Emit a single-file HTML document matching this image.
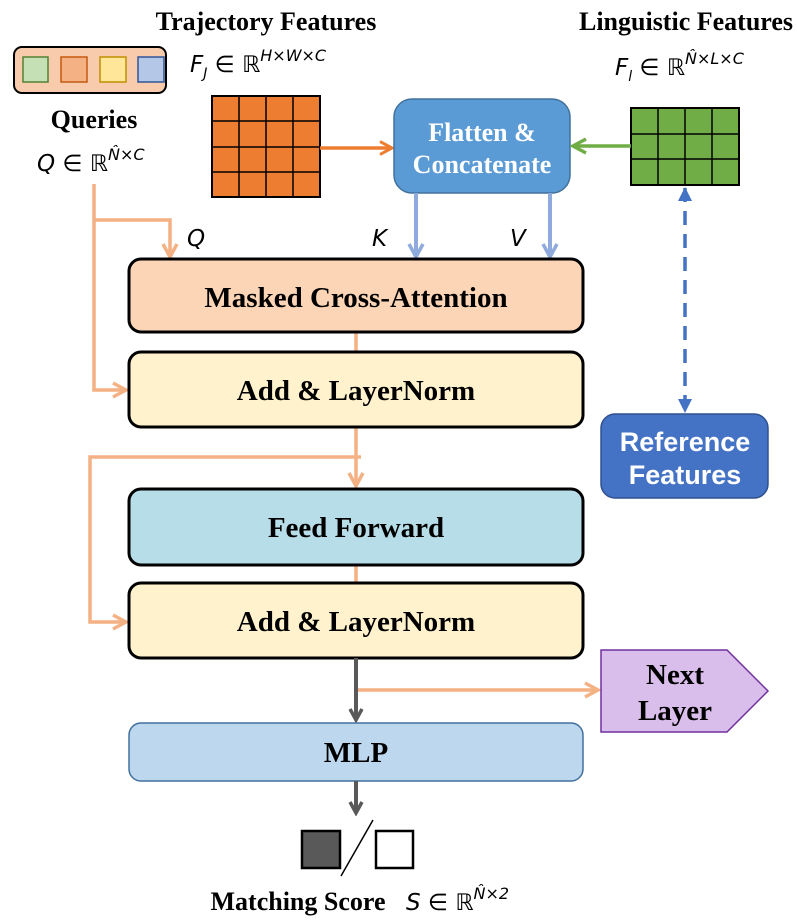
<!DOCTYPE html>
<html><head><meta charset="utf-8"><style>
html,body{margin:0;padding:0;background:#fff;}
svg{display:block;}
.t{font-family:"Liberation Serif",serif;font-weight:bold;fill:#000;}
.m{font-family:"DejaVu Sans","Liberation Serif",serif;font-style:italic;fill:#000;}
</style></head><body>
<svg width="797" height="922" viewBox="0 0 797 922" xmlns="http://www.w3.org/2000/svg">
<defs>
<marker id="ao" viewBox="0 0 16 16" refX="14" refY="8" markerWidth="16" markerHeight="16" markerUnits="userSpaceOnUse" orient="auto"><path d="M2,1.5 L14,8 L2,14.5" fill="none" stroke="#ed7d31" stroke-width="3"/></marker>
<marker id="ap" viewBox="0 0 18 18" refX="15" refY="9" markerWidth="18" markerHeight="18" markerUnits="userSpaceOnUse" orient="auto"><path d="M2,2 L15,9 L2,16" fill="none" stroke="#f4b183" stroke-width="3.5"/></marker>
<marker id="ag" viewBox="0 0 18 18" refX="15" refY="9" markerWidth="18" markerHeight="18" markerUnits="userSpaceOnUse" orient="auto"><path d="M2,2 L15,9 L2,16" fill="none" stroke="#70ad47" stroke-width="3.5"/></marker>
<marker id="ab" viewBox="0 0 18 18" refX="15" refY="9" markerWidth="18" markerHeight="18" markerUnits="userSpaceOnUse" orient="auto"><path d="M2,2 L15,9 L2,16" fill="none" stroke="#8faadc" stroke-width="3.5"/></marker>
<marker id="ay" viewBox="0 0 16 16" refX="13" refY="8" markerWidth="16" markerHeight="16" markerUnits="userSpaceOnUse" orient="auto"><path d="M2,2 L13,8 L2,14" fill="none" stroke="#595959" stroke-width="3.5"/></marker>
<marker id="ad" viewBox="0 0 14 14" refX="13" refY="7" markerWidth="14" markerHeight="14" markerUnits="userSpaceOnUse" orient="auto-start-reverse"><path d="M0,0 L14,7 L0,14 Z" fill="#4472c4"/></marker>
</defs>

<text class="t" x="266" y="30" font-size="26" text-anchor="middle">Trajectory Features</text>
<text class="t" x="686" y="30" font-size="26" text-anchor="middle">Linguistic Features</text>

<!-- Queries -->
<rect x="14" y="47" width="152" height="46" rx="8" fill="#f8cbad" stroke="#000" stroke-width="2"/>
<rect x="23" y="57" width="25" height="25" fill="#c5e0b4" stroke="#538135" stroke-width="1.5"/>
<rect x="61" y="57" width="26" height="25" fill="#f4b183" stroke="#c55a11" stroke-width="1.5"/>
<rect x="100" y="57" width="26" height="25" fill="#ffe699" stroke="#bf9000" stroke-width="1.5"/>
<rect x="138" y="57" width="26" height="25" fill="#b4c7e7" stroke="#2f5597" stroke-width="1.5"/>
<text class="t" x="94" y="128" font-size="26" text-anchor="middle">Queries</text>
<text class="m" x="37" y="171" font-size="23">Q ∈ ℝ<tspan font-size="16" dy="-11">N̂×C</tspan></text>

<text class="m" x="190" y="72" font-size="23">F<tspan font-size="14" dy="6">J</tspan><tspan dy="-6"> ∈ ℝ</tspan><tspan font-size="16" dy="-11">H×W×C</tspan></text>
<text class="m" x="615" y="75" font-size="23">F<tspan font-size="14" dy="6">l</tspan><tspan dy="-6"> ∈ ℝ</tspan><tspan font-size="16" dy="-11">N̂×L×C</tspan></text>

<!-- orange grid -->
<rect x="212" y="96" width="108" height="101" fill="#ed7d31" stroke="#000" stroke-width="2"/>
<path d="M239,96V197M266,96V197M293,96V197M212,121H320M212,147H320M212,172H320" stroke="#000" stroke-width="1.5"/>
<line x1="320" y1="148" x2="392" y2="148" stroke="#ed7d31" stroke-width="3.5" marker-end="url(#ao)"/>

<!-- flatten -->
<rect x="394" y="99" width="176" height="94" rx="18" fill="#5b9bd5" stroke="#41719c" stroke-width="1.5"/>
<text class="t" x="482" y="141" font-size="26" text-anchor="middle" style="fill:#fff">Flatten &amp;</text>
<text class="t" x="482" y="173" font-size="26" text-anchor="middle" style="fill:#fff">Concatenate</text>

<!-- green grid -->
<rect x="631" y="108" width="108" height="77" fill="#70ad47" stroke="#000" stroke-width="2"/>
<path d="M658,108V185M685,108V185M712,108V185M631,134H739M631,159H739" stroke="#000" stroke-width="1.5"/>
<line x1="631" y1="146" x2="573" y2="146" stroke="#70ad47" stroke-width="3.5" marker-end="url(#ag)"/>

<!-- dashed -->
<line x1="685" y1="188" x2="685" y2="412" stroke="#4472c4" stroke-width="3.5" stroke-dasharray="14,9" marker-start="url(#ad)" marker-end="url(#ad)"/>
<rect x="601" y="414" width="167" height="84" rx="14" fill="#4472c4" stroke="#2f528f" stroke-width="1.5"/>
<text x="685" y="451" font-size="27" font-weight="bold" text-anchor="middle" fill="#fff" font-family="'Liberation Sans',sans-serif">Reference</text>
<text x="685" y="484" font-size="27" font-weight="bold" text-anchor="middle" fill="#fff" font-family="'Liberation Sans',sans-serif">Features</text>

<!-- K V -->
<line x1="416" y1="193" x2="416" y2="257" stroke="#8faadc" stroke-width="4" marker-end="url(#ab)"/>
<line x1="550" y1="193" x2="550" y2="257" stroke="#8faadc" stroke-width="4" marker-end="url(#ab)"/>
<text class="m" x="372" y="246" font-size="23">K</text>
<text class="m" x="510" y="246" font-size="23">V</text>
<text class="m" x="187" y="246" font-size="23">Q</text>

<!-- Q lines -->
<path d="M94,184 V390 H126" fill="none" stroke="#f4b183" stroke-width="3.5" marker-end="url(#ap)"/>
<path d="M94,220 H170 V257" fill="none" stroke="#f4b183" stroke-width="3.5" marker-end="url(#ap)"/>

<!-- mid lines -->
<line x1="356" y1="332" x2="356" y2="352" stroke="#f4b183" stroke-width="3.5"/>
<line x1="356" y1="427" x2="356" y2="486" stroke="#f4b183" stroke-width="3.5" marker-end="url(#ap)"/>
<path d="M361,457 H90 V622 H126" fill="none" stroke="#f4b183" stroke-width="3.5" marker-end="url(#ap)"/>
<line x1="356" y1="565" x2="356" y2="583" stroke="#f4b183" stroke-width="3.5"/>

<!-- boxes -->
<rect x="129" y="259" width="454" height="73" rx="12" fill="#fbd5b5" stroke="#000" stroke-width="3"/>
<text class="t" x="356" y="307" font-size="29" text-anchor="middle">Masked Cross-Attention</text>
<rect x="129" y="352" width="454" height="75" rx="12" fill="#fff2cc" stroke="#000" stroke-width="3"/>
<text class="t" x="356" y="400" font-size="29" text-anchor="middle">Add &amp; LayerNorm</text>
<rect x="129" y="489" width="454" height="76" rx="12" fill="#b7dde8" stroke="#000" stroke-width="3"/>
<text class="t" x="356" y="537" font-size="29" text-anchor="middle">Feed Forward</text>
<rect x="129" y="583" width="454" height="75" rx="12" fill="#fff2cc" stroke="#000" stroke-width="3"/>
<text class="t" x="356" y="631" font-size="29" text-anchor="middle">Add &amp; LayerNorm</text>

<!-- bottom -->
<line x1="356" y1="658" x2="356" y2="720" stroke="#595959" stroke-width="4" marker-end="url(#ay)"/>
<line x1="358" y1="690" x2="598" y2="690" stroke="#f4b183" stroke-width="3.5" marker-end="url(#ap)"/>
<path d="M601,650 H727 L768,691 L727,732 H601 Z" fill="#d9bdea" stroke="#7030a0" stroke-width="1.5"/>
<text class="t" x="675" y="684" font-size="29" text-anchor="middle">Next</text>
<text class="t" x="675" y="720" font-size="29" text-anchor="middle">Layer</text>

<rect x="129" y="723" width="454" height="58" rx="12" fill="#bdd7ee" stroke="#41719c" stroke-width="1.5"/>
<text class="t" x="356" y="762" font-size="29" text-anchor="middle">MLP</text>
<line x1="356" y1="781" x2="356" y2="813" stroke="#595959" stroke-width="4" marker-end="url(#ay)"/>

<rect x="302" y="831" width="38" height="37" fill="#595959" stroke="#000" stroke-width="2.5"/>
<line x1="341" y1="876" x2="373" y2="820" stroke="#000" stroke-width="1.5"/>
<rect x="376" y="831" width="37" height="37" fill="#fff" stroke="#000" stroke-width="2.5"/>
<text class="t" x="298" y="910" font-size="26" text-anchor="middle">Matching Score</text>
<text class="m" x="406" y="910" font-size="23">S ∈ ℝ<tspan font-size="16" dy="-11">N̂×2</tspan></text>
</svg>
</body></html>
